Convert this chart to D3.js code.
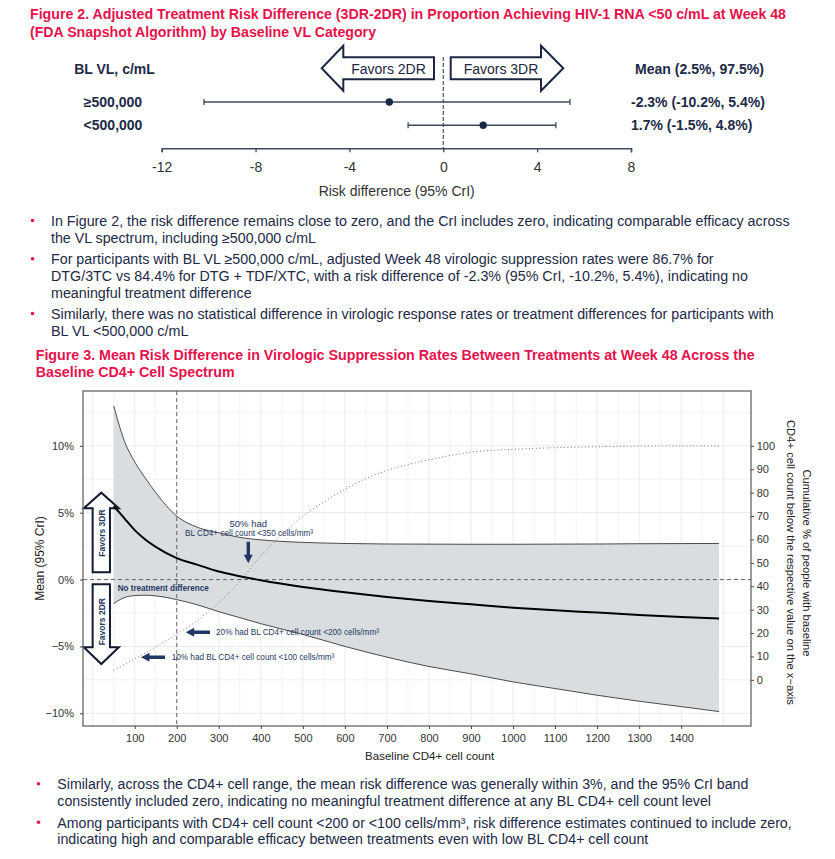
<!DOCTYPE html>
<html>
<head>
<meta charset="utf-8">
<script src="https://cdn.jsdelivr.net/npm/d3@7"></script>
<style>
  body { margin: 0; background: #fff; }
  text { font-family: "Liberation Sans", Arial, Helvetica, sans-serif; }
</style>
</head>
<body>
<div id="container"></div>
<script>
// ---- data: Figure 2 (risk difference by baseline VL) ----
var vlCategories = ['≥500,000', '<500,000'];
var vlMean = [-2.3, 1.7];
var vlLower = [-10.2, -1.5];
var vlUpper = [5.4, 4.8];
var vlTicks = [-12, -8, -4, 0, 4, 8];

// ---- data: Figure 3 (risk difference across BL CD4+) ----
var cd4 = [50, 75, 100, 125, 150, 200, 250, 300, 350, 400, 500, 600, 700, 800, 900, 1000, 1100, 1200, 1300, 1400, 1490];
var rdUpper = [13.0, 10.4, 8.8, 7.6, 6.5, 4.75, 3.9, 3.5, 3.15, 2.97, 2.78, 2.7, 2.66, 2.65, 2.64, 2.64, 2.65, 2.66, 2.68, 2.69, 2.7];
var rdMean = [5.5, 4.6, 3.7, 3.0, 2.45, 1.6, 1.1, 0.6, 0.25, -0.05, -0.55, -0.95, -1.3, -1.6, -1.85, -2.1, -2.3, -2.47, -2.65, -2.8, -2.92];
var rdLower = [-1.8, -1.35, -1.2, -1.17, -1.22, -1.5, -1.9, -2.4, -2.85, -3.3, -4.1, -5.0, -5.8, -6.5, -7.05, -7.65, -8.15, -8.65, -9.1, -9.5, -9.87];

var cumCd4 = [50, 100, 150, 200, 250, 300, 350, 400, 450, 500, 550, 600, 650, 700, 750, 800, 900, 1000, 1100, 1200, 1300, 1400, 1490];
var cumPct = [4, 9, 14, 19.5, 25.5, 33, 42, 53, 62, 70, 76, 81.5, 86, 89.5, 92, 94, 97.3, 98.5, 99.2, 99.6, 99.9, 100, 100];

var cd4Ticks = d3.range(100, 1401, 100);
var rdTicks = [-10, -5, 0, 5, 10];
var rdTickLabels = ['−10%', '−5%', '0%', '5%', '10%'];
var cumTicks = d3.range(0, 101, 10);

// ---- texts ----
var fig2Title = [
  'Figure 2. Adjusted Treatment Risk Difference (3DR-2DR) in Proportion Achieving HIV-1 RNA <50 c/mL at Week 48',
  '(FDA Snapshot Algorithm) by Baseline VL Category'
];
var bulletsTop = [
  ['In Figure 2, the risk difference remains close to zero, and the CrI includes zero, indicating comparable efficacy across',
   'the VL spectrum, including ≥500,000 c/mL'],
  ['For participants with BL VL ≥500,000 c/mL, adjusted Week 48 virologic suppression rates were 86.7% for',
   'DTG/3TC vs 84.4% for DTG + TDF/XTC, with a risk difference of -2.3% (95% CrI, -10.2%, 5.4%), indicating no',
   'meaningful treatment difference'],
  ['Similarly, there was no statistical difference in virologic response rates or treatment differences for participants with',
   'BL VL <500,000 c/mL']
];
var fig3Title = [
  'Figure 3. Mean Risk Difference in Virologic Suppression Rates Between Treatments at Week 48 Across the',
  'Baseline CD4+ Cell Spectrum'
];
var bulletsBottom = [
  ['Similarly, across the CD4+ cell range, the mean risk difference was generally within 3%, and the 95% CrI band',
   'consistently included zero, indicating no meaningful treatment difference at any BL CD4+ cell count level'],
  ['Among participants with CD4+ cell count <200 or <100 cells/mm³, risk difference estimates continued to include zero,',
   'indicating high and comparable efficacy between treatments even with low BL CD4+ cell count']
];

var svgWidth = 835, svgHeight = 859;
var svg = d3.select('#container').append('svg')
  .attr('width', svgWidth).attr('height', svgHeight)
  .style('background-color', 'white');

var red = '#e5124c', navy = '#1c2a47', annot = '#1f3864';

function addText(g, x, y, str, o) {
  o = o || {};
  var t = g.append('text').attr('x', x).attr('y', y).text(str)
    .attr('font-size', o.size || 14)
    .attr('font-weight', o.weight || 'normal')
    .attr('fill', o.fill || navy)
    .attr('text-anchor', o.anchor || 'start');
  if (o.dy) t.attr('dy', o.dy);
  if (o.width) t.attr('textLength', o.width).attr('lengthAdjust', 'spacingAndGlyphs');
  if (o.rotate) t.attr('transform', 'rotate(' + o.rotate + ',' + x + ',' + y + ')');
  return t;
}

function arrowPath(x1, y1, x2, y2, sw, hw, hl) {
  var dx = x2 - x1, dy = y2 - y1, L = Math.hypot(dx, dy);
  var ux = dx / L, uy = dy / L, px = -uy, py = ux;
  var bx = x2 - ux * hl, by = y2 - uy * hl;
  var pts = [
    [x1 + px * sw / 2, y1 + py * sw / 2], [bx + px * sw / 2, by + py * sw / 2],
    [bx + px * hw / 2, by + py * hw / 2], [x2, y2],
    [bx - px * hw / 2, by - py * hw / 2], [bx - px * sw / 2, by - py * sw / 2],
    [x1 - px * sw / 2, y1 - py * sw / 2]
  ];
  return d3.line()(pts) + 'Z';
}

// ================= Figure 2 =================
var f2TitleWidths = [756, 346];
fig2Title.forEach(function(s, i) {
  addText(svg, 30, 19.3 + i * 17.4, s, { weight: 'bold', fill: red, width: f2TitleWidths[i] });
});

var f2x = d3.scaleLinear().domain([-12, 8]).range([161.7, 631]);
var f2y = d3.scalePoint().domain(vlCategories).range([102, 125.3]);

// favour arrows
svg.append('path').attr('d', arrowPath(434, 68.3, 321.7, 68.3, 22, 45, 21.6))
  .attr('fill', 'white').attr('stroke', '#1c2640').attr('stroke-width', 2).attr('stroke-linejoin', 'miter');
svg.append('path').attr('d', arrowPath(450.7, 68.3, 563.3, 68.3, 22, 45, 22.3))
  .attr('fill', 'white').attr('stroke', '#1c2640').attr('stroke-width', 2).attr('stroke-linejoin', 'miter');
addText(svg, 388.5, 73.5, 'Favors 2DR', { anchor: 'middle', fill: '#1c2640' });
addText(svg, 501, 73.5, 'Favors 3DR', { anchor: 'middle', fill: '#1c2640' });

// zero line
svg.append('line').attr('x1', f2x(0)).attr('x2', f2x(0)).attr('y1', 57).attr('y2', 148.3)
  .attr('stroke', '#4a5568').attr('stroke-width', 1.2).attr('stroke-dasharray', '4,2');

addText(svg, 114.5, 74, 'BL VL, c/mL', { weight: 'bold', anchor: 'middle' });
addText(svg, 635, 74, 'Mean (2.5%, 97.5%)', { weight: 'bold', width: 129 });

var rows = svg.append('g').selectAll('g').data(vlCategories).enter().append('g');
rows.append('text')
  .attr('x', 113).attr('y', function(d) { return f2y(d) + 5; })
  .attr('text-anchor', 'middle').attr('font-size', 14).attr('font-weight', 'bold').attr('fill', navy)
  .text(function(d) { return d; });
rows.append('line')
  .attr('x1', function(d, i) { return f2x(vlLower[i]); })
  .attr('x2', function(d, i) { return f2x(vlUpper[i]); })
  .attr('y1', function(d) { return f2y(d); }).attr('y2', function(d) { return f2y(d); })
  .attr('stroke', '#3c4a60').attr('stroke-width', 1.5);
[vlLower, vlUpper].forEach(function(arr) {
  rows.append('line')
    .attr('x1', function(d, i) { return f2x(arr[i]); })
    .attr('x2', function(d, i) { return f2x(arr[i]); })
    .attr('y1', function(d) { return f2y(d) - 3; }).attr('y2', function(d) { return f2y(d) + 3; })
    .attr('stroke', '#3c4a60').attr('stroke-width', 1.3);
});
rows.append('circle')
  .attr('cx', function(d, i) { return f2x(vlMean[i]); })
  .attr('cy', function(d) { return f2y(d); })
  .attr('r', 3.7).attr('fill', '#1a2742');
rows.append('text')
  .attr('x', 631).attr('y', function(d) { return f2y(d) + 5; })
  .attr('font-size', 14).attr('font-weight', 'bold').attr('fill', navy)
  .text(function(d, i) {
    return vlMean[i].toFixed(1) + '% (' + vlLower[i].toFixed(1) + '%, ' + vlUpper[i].toFixed(1) + '%)';
  });

var f2axis = svg.append('g').attr('transform', 'translate(0,148.3)')
  .call(d3.axisBottom(f2x).tickValues(vlTicks).tickSize(4).tickPadding(9.5).tickFormat(d3.format('d')));
f2axis.select('.domain').attr('stroke', '#3d4a5f').attr('stroke-width', 1.5);
f2axis.selectAll('.tick line').attr('stroke', '#3d4a5f').attr('stroke-width', 1.3);
f2axis.selectAll('.tick text').attr('font-size', 14).attr('fill', '#333')
  .attr('font-family', '"Liberation Sans", Arial, sans-serif')
  .text(function(d) { return d < 0 ? '-' + Math.abs(d) : d; });
addText(svg, 396.7, 195.7, 'Risk difference (95% CrI)', { anchor: 'middle', fill: '#333' });

// ================= bullets =================
var topStarts = [226, 264.3, 319];
var topWidths = [[738.6, 265], [662.6, 697, 200.6], [722.6, 137.4]];
bulletsTop.forEach(function(lines, b) {
  svg.append('circle').attr('cx', 32.5).attr('cy', topStarts[b] - 5.5).attr('r', 1.8).attr('fill', red);
  lines.forEach(function(s, i) {
    addText(svg, 51, topStarts[b] + i * 16.7, s, { width: topWidths[b][i] });
  });
});

var f3TitleWidths = [719, 199];
fig3Title.forEach(function(s, i) {
  addText(svg, 35.7, 360 + i * 16.7, s, { weight: 'bold', fill: red, width: f3TitleWidths[i] });
});

var botStarts = [789.3, 827.7];
var botWidths = [[691, 653.7], [734.4, 591]];
bulletsBottom.forEach(function(lines, b) {
  svg.append('circle').attr('cx', 38.5).attr('cy', botStarts[b] - 5.5).attr('r', 1.8).attr('fill', red);
  lines.forEach(function(s, i) {
    addText(svg, 57.3, botStarts[b] + i * 16.7, s, { width: botWidths[b][i] });
  });
});

// ================= Figure 3 =================
var p = { left: 83, right: 751, top: 391, bottom: 726 };
var x = d3.scaleLinear().domain([-23, 1566]).range([p.left, p.right]);
var y = d3.scaleLinear().domain([-10.95, 14.1]).range([p.bottom, p.top]);
var y2 = d3.scaleLinear().domain([0, 100]).range([y(-7.5), y(10)]);

var g = svg.append('g');
g.append('rect').attr('x', p.left).attr('y', p.top)
  .attr('width', p.right - p.left).attr('height', p.bottom - p.top).attr('fill', 'white');

var grid = g.append('g').attr('stroke', '#e8ebec');
d3.range(0, 1501, 50).forEach(function(v) {
  grid.append('line').attr('x1', x(v)).attr('x2', x(v)).attr('y1', p.top).attr('y2', p.bottom)
    .attr('stroke-width', v % 100 === 0 ? 1 : 0.6);
});
d3.range(-10, 12.6, 2.5).forEach(function(v) {
  grid.append('line').attr('x1', p.left).attr('x2', p.right).attr('y1', y(v)).attr('y2', y(v))
    .attr('stroke-width', v % 5 === 0 ? 1 : 0.6);
});

var band = cd4.map(function(c, i) { return { c: c, lo: rdLower[i], m: rdMean[i], hi: rdUpper[i] }; });

g.append('path').datum(band)
  .attr('fill', '#dadddf')
  .attr('d', d3.area().curve(d3.curveMonotoneX)
    .x(function(d) { return x(d.c); })
    .y0(function(d) { return y(d.lo); })
    .y1(function(d) { return y(d.hi); }));

['lo', 'hi'].forEach(function(k) {
  g.append('path').datum(band)
    .attr('fill', 'none').attr('stroke', '#222').attr('stroke-width', 0.8)
    .attr('d', d3.line().curve(d3.curveMonotoneX)
      .x(function(d) { return x(d.c); })
      .y(function(d) { return y(d[k]); }));
});

// reference lines
g.append('line').attr('x1', x(200)).attr('x2', x(200)).attr('y1', p.top).attr('y2', p.bottom)
  .attr('stroke', '#666').attr('stroke-width', 1).attr('stroke-dasharray', '4,3');
g.append('line').attr('x1', p.left).attr('x2', p.right).attr('y1', y(0)).attr('y2', y(0))
  .attr('stroke', '#666').attr('stroke-width', 1).attr('stroke-dasharray', '4,3');

// cumulative distribution (dotted)
var cum = cumCd4.map(function(c, i) { return { c: c, v: cumPct[i] }; });
g.append('path').datum(cum)
  .attr('fill', 'none').attr('stroke', '#777').attr('stroke-width', 1).attr('stroke-dasharray', '1,2.5')
  .attr('d', d3.line().curve(d3.curveMonotoneX)
    .x(function(d) { return x(d.c); })
    .y(function(d) { return y2(d.v); }));

// favour arrows
g.append('path').attr('d', arrowPath(101.3, 572.3, 101.3, 492.7, 17.3, 35, 15.6))
  .attr('fill', 'white').attr('stroke', '#111a2e').attr('stroke-width', 2);
g.append('path').attr('d', arrowPath(101.3, 584.3, 101.3, 664, 17.3, 35, 16.7))
  .attr('fill', 'white').attr('stroke', '#111a2e').attr('stroke-width', 2);
addText(g, 102, 533, 'Favors 3DR', { size: 8.5, weight: 'bold', fill: annot, anchor: 'middle', dy: '0.35em', rotate: -90 });
addText(g, 102, 621.7, 'Favors 2DR', { size: 8.5, weight: 'bold', fill: annot, anchor: 'middle', dy: '0.35em', rotate: -90 });

// mean line
g.append('path').datum(band)
  .attr('fill', 'none').attr('stroke', '#000').attr('stroke-width', 2)
  .attr('d', d3.line().curve(d3.curveMonotoneX)
    .x(function(d) { return x(d.c); })
    .y(function(d) { return y(d.m); }));

// annotations
addText(g, 248.3, 526.7, '50% had', { size: 9.5, fill: annot, anchor: 'middle' });
addText(g, 249, 536, 'BL CD4+ cell count <350 cells/mm³', { size: 9.5, fill: annot, anchor: 'middle', width: 128 });
g.append('path').attr('d', arrowPath(248.3, 541.7, 248.3, 563.3, 3.4, 9, 8.5)).attr('fill', annot);
addText(g, 117.7, 591, 'No treatment difference', { size: 9.5, weight: 'bold', fill: annot, width: 91 });
g.append('path').attr('d', arrowPath(210, 632.3, 185.7, 632.3, 3.6, 9, 8.5)).attr('fill', annot);
addText(g, 216, 635.3, '20% had BL CD4+ cell count <200 cells/mm³', { size: 9.5, fill: annot, width: 163 });
g.append('path').attr('d', arrowPath(165, 657.3, 141, 657.3, 3.6, 9, 8.5)).attr('fill', annot);
addText(g, 171.7, 660.3, '10% had BL CD4+ cell count <100 cells/mm³', { size: 9.5, fill: annot, width: 162.6 });

// panel border
g.append('rect').attr('x', p.left).attr('y', p.top)
  .attr('width', p.right - p.left).attr('height', p.bottom - p.top)
  .attr('fill', 'none').attr('stroke', '#666').attr('stroke-width', 1.3);

// axes
function styleAxis(a) {
  a.select('.domain').remove();
  a.selectAll('.tick line').attr('stroke', '#444');
  a.selectAll('.tick text').attr('font-size', 11).attr('fill', '#333')
    .attr('font-family', '"Liberation Sans", Arial, sans-serif');
}
styleAxis(svg.append('g').attr('transform', 'translate(0,' + p.bottom + ')')
  .call(d3.axisBottom(x).tickValues(cd4Ticks).tickSize(3).tickPadding(5.5).tickFormat(d3.format('d'))));
styleAxis(svg.append('g').attr('transform', 'translate(' + p.left + ',0)')
  .call(d3.axisLeft(y).tickValues(rdTicks).tickSize(3).tickPadding(6)
    .tickFormat(function(d, i) { return rdTickLabels[i]; })));
styleAxis(svg.append('g').attr('transform', 'translate(' + p.right + ',0)')
  .call(d3.axisRight(y2).tickValues(cumTicks).tickSize(3).tickPadding(2.7).tickFormat(d3.format('d'))));

addText(svg, 429.6, 760, 'Baseline CD4+ cell count', { size: 11.5, fill: '#222', anchor: 'middle', width: 129 });
addText(svg, 40, 558.5, 'Mean (95% CrI)', { size: 12, fill: '#222', anchor: 'middle', dy: '0.35em', rotate: -90 });
addText(svg, 806.7, 563, 'Cumulative % of people with baseline', { size: 11, fill: '#222', anchor: 'middle', dy: '0.35em', rotate: 90, width: 187 });
addText(svg, 791.2, 562.5, 'CD4+ cell count below the respective value on the x−axis', { size: 11, fill: '#222', anchor: 'middle', dy: '0.35em', rotate: 90, width: 285 });
</script>
</body>
</html>
